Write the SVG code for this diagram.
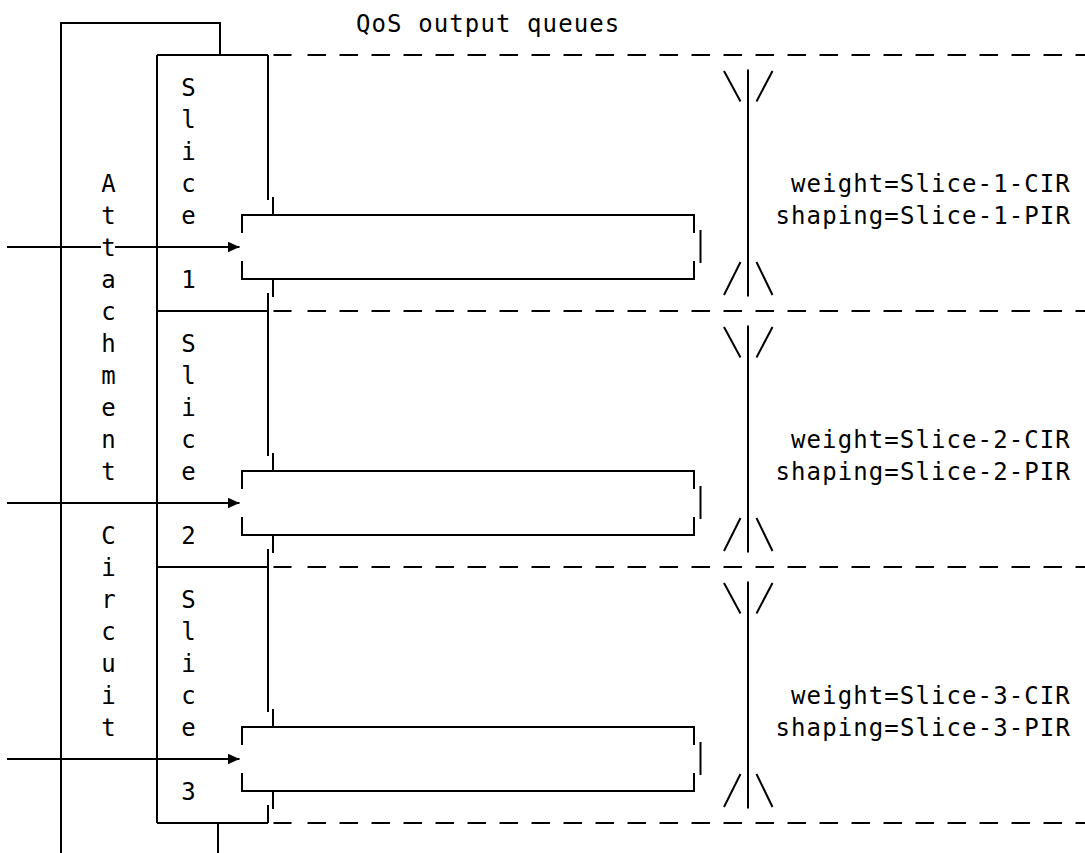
<svg xmlns="http://www.w3.org/2000/svg" width="1085" height="853" viewBox="0 0 1085 853">
<style>
.ln{fill:none;stroke:#000;stroke-width:2}
.dash{fill:none;stroke:#000;stroke-width:2;stroke-dasharray:18.5 13.5}
.t{font-family:"DejaVu Sans Mono","Liberation Mono",monospace;font-size:24px;fill:#000}
.c{text-anchor:middle}
.s{letter-spacing:1.1px}
</style>
<defs>
<marker id="ah" markerWidth="12" markerHeight="11" refX="12" refY="5.5" orient="auto" markerUnits="userSpaceOnUse">
<path d="M0,0 L12,5.5 L0,11 Z" fill="#000"/>
</marker>
</defs>
<rect width="1085" height="853" fill="#fff"/>

<g id="title">
<text class="t s" x="356" y="31.5">QoS output queues</text>
</g>

<g id="attachment-circuit">
<path class="ln" d="M61,853 V23 H220 V55 M218,823 V853"/>
<g class="t c">
<text x="108.5" y="191.5">A</text>
<text x="108.5" y="223.5">t</text>
<text x="108.5" y="255.5">t</text>
<text x="108.5" y="287.5">a</text>
<text x="108.5" y="319.5">c</text>
<text x="108.5" y="351.5">h</text>
<text x="108.5" y="383.5">m</text>
<text x="108.5" y="415.5">e</text>
<text x="108.5" y="447.5">n</text>
<text x="108.5" y="479.5">t</text>
<text x="108.5" y="543.5">C</text>
<text x="108.5" y="575.5">i</text>
<text x="108.5" y="607.5">r</text>
<text x="108.5" y="639.5">c</text>
<text x="108.5" y="671.5">u</text>
<text x="108.5" y="703.5">i</text>
<text x="108.5" y="735.5">t</text>
</g>
</g>

<g id="slice-boxes">
<path class="ln" d="M157,55 V823 M157,55 H268 M157,311 H268 M157,567 H268 M157,823 H268"/>
<path class="ln" d="M268,55 V200 M273,197 V215 M273,279 V297 M268,293 V456 M273,453 V471 M273,535 V553 M268,549 V712 M273,709 V727 M273,791 V809 M268,805 V823"/>
</g>

<g id="slice-1">
<g class="t c">
<text x="188.5" y="95.5">S</text>
<text x="188.5" y="127.5">l</text>
<text x="188.5" y="159.5">i</text>
<text x="188.5" y="191.5">c</text>
<text x="188.5" y="223.5">e</text>
<text x="188.5" y="287.5">1</text>
</g>
</g>
<g id="slice-2">
<g class="t c">
<text x="188.5" y="351.5">S</text>
<text x="188.5" y="383.5">l</text>
<text x="188.5" y="415.5">i</text>
<text x="188.5" y="447.5">c</text>
<text x="188.5" y="479.5">e</text>
<text x="188.5" y="543.5">2</text>
</g>
</g>
<g id="slice-3">
<g class="t c">
<text x="188.5" y="607.5">S</text>
<text x="188.5" y="639.5">l</text>
<text x="188.5" y="671.5">i</text>
<text x="188.5" y="703.5">c</text>
<text x="188.5" y="735.5">e</text>
<text x="188.5" y="799.5">3</text>
</g>
</g>

<g id="separators">
<path class="ln" d="M273.5,55 H291.5 M273.5,311 H291.5 M273.5,567 H291.5 M273.5,823 H291.5"/>
<path class="dash" d="M307.5,55 H1085 M307.5,311 H1085 M307.5,567 H1085 M307.5,823 H1085"/>
</g>

<g id="queue-1">
<path class="ln" d="M242,233 V215 H694 V233 M242,261 V279 H694 V261 M700.5,230 V263"/>
</g>
<g id="queue-2">
<path class="ln" d="M242,489 V471 H694 V489 M242,517 V535 H694 V517 M700.5,486 V519"/>
</g>
<g id="queue-3">
<path class="ln" d="M242,745 V727 H694 V745 M242,773 V791 H694 V773 M700.5,742 V775"/>
</g>

<g id="scheduler-1">
<path class="ln" d="M748,69.5 V296.5 M724,71 L740.5,101.5 M772.5,71 L756.5,101.5 M724,295 L740.5,262 M756.5,262 L772.5,295"/>
<text class="t s" x="791" y="191.5">weight=Slice-1-CIR</text>
<text class="t s" x="775.5" y="223.5">shaping=Slice-1-PIR</text>
</g>
<g id="scheduler-2">
<path class="ln" d="M748,325.5 V552.5 M724,327 L740.5,357.5 M772.5,327 L756.5,357.5 M724,551 L740.5,518 M756.5,518 L772.5,551"/>
<text class="t s" x="791" y="447.5">weight=Slice-2-CIR</text>
<text class="t s" x="775.5" y="479.5">shaping=Slice-2-PIR</text>
</g>
<g id="scheduler-3">
<path class="ln" d="M748,581.5 V808.5 M724,583 L740.5,613.5 M772.5,583 L756.5,613.5 M724,807 L740.5,774 M756.5,774 L772.5,807"/>
<text class="t s" x="791" y="703.5">weight=Slice-3-CIR</text>
<text class="t s" x="775.5" y="735.5">shaping=Slice-3-PIR</text>
</g>

<g id="connectors">
<path class="ln" d="M7,247 H101"/>
<path class="ln" d="M115,247 H239.5" marker-end="url(#ah)"/>
<path class="ln" d="M7,503 H239.5" marker-end="url(#ah)"/>
<path class="ln" d="M7,759 H239.5" marker-end="url(#ah)"/>
</g>
</svg>
